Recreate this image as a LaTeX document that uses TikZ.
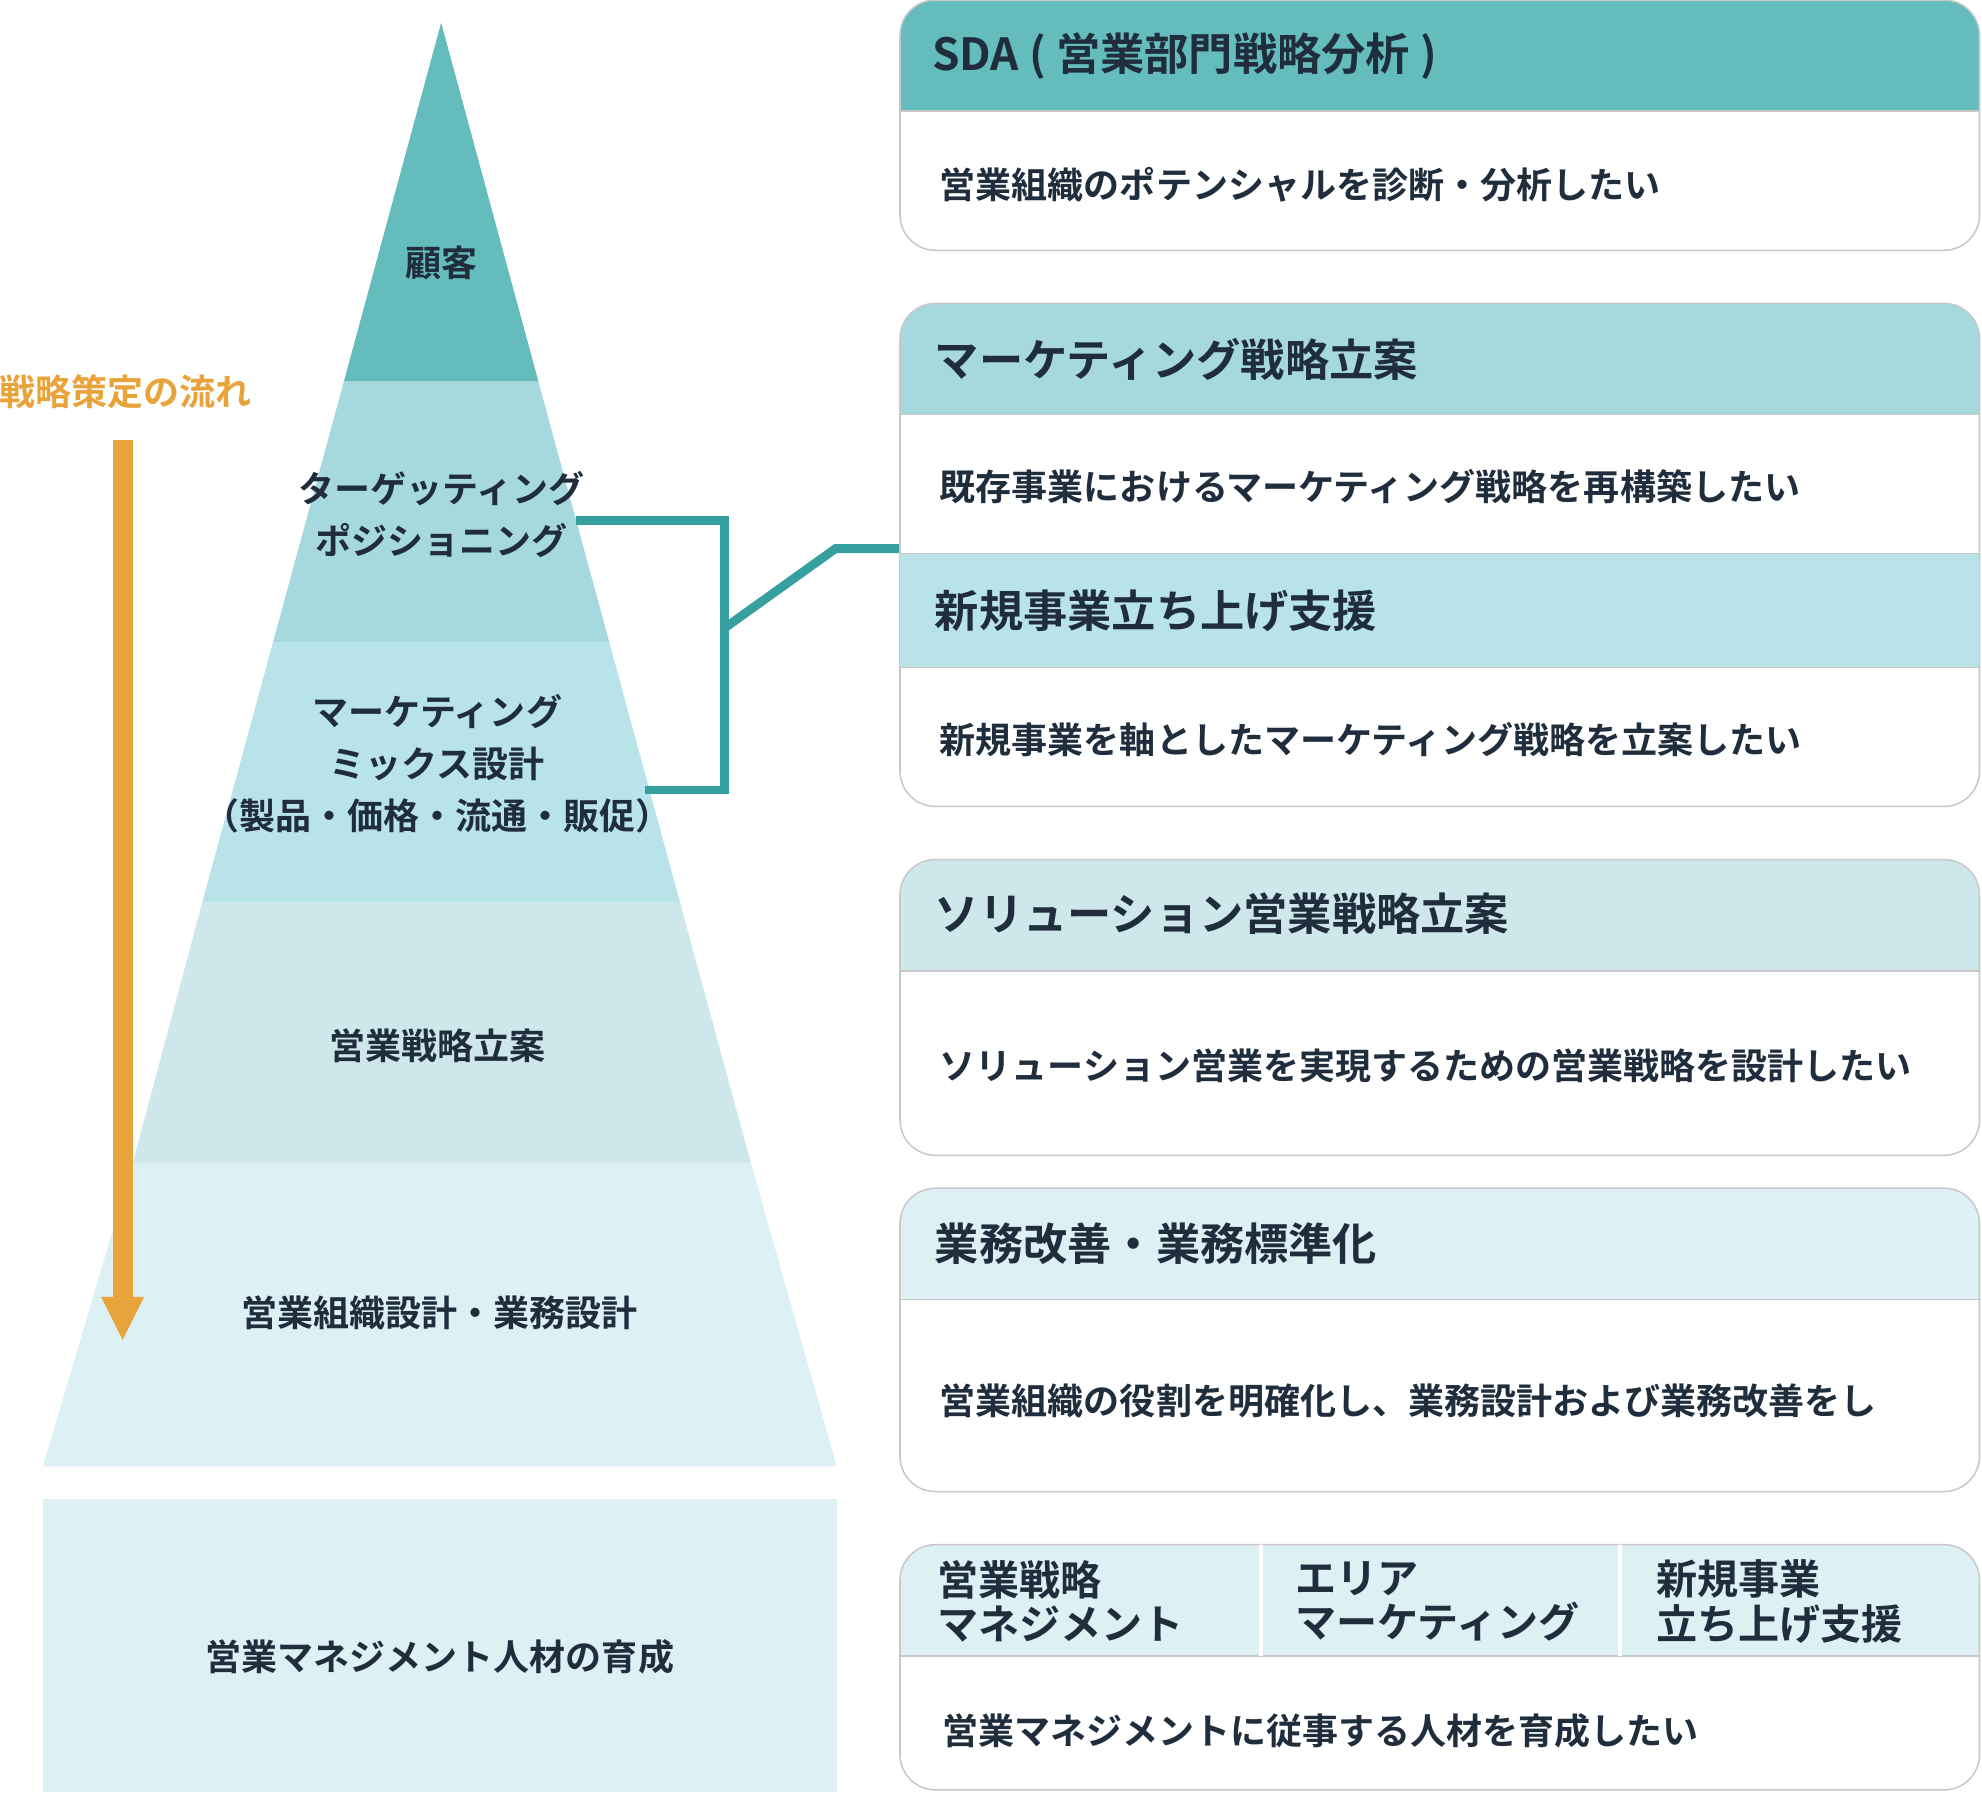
\documentclass[tikz,border=0pt]{standalone}
\usepackage{fontspec}
\setmainfont{Noto Sans CJK JP}[BoldFont={* Bold}]
\begin{document}
\begin{tikzpicture}[x=1pt,y=-1pt,
  txt/.style={font=\bfseries\fontsize{28.5}{41}\selectfont,text=dk,align=center},
  hd/.style={font=\bfseries\fontsize{35}{38}\selectfont,text=dk,anchor=west,align=left},
  bd/.style={font=\bfseries\fontsize{28.5}{32}\selectfont,text=dk,anchor=west},
  pan/.style={draw=bdr,line width=1.2pt,rounded corners=28pt},
  conn/.style={draw=tl,line width=7pt}]
\definecolor{dk}{HTML}{1F2D3D}
\definecolor{c1}{HTML}{64BCBD}
\definecolor{c2}{HTML}{A6D9DE}
\definecolor{c3}{HTML}{B8E3E9}
\definecolor{c4}{HTML}{CDE7EA}
\definecolor{c5}{HTML}{DDF0F4}
\definecolor{bdr}{HTML}{C8C8C8}
\definecolor{tl}{HTML}{36A0A0}
\definecolor{org}{HTML}{E8A43A}
\useasboundingbox (0,0) rectangle (1568,1420);
% pyramid
\fill[c1] (349,18) -- (426,302) -- (272,302) -- cycle;
\fill[c2] (272,302) -- (426,302) -- (482,508) -- (216,508) -- cycle;
\fill[c3] (216,508) -- (482,508) -- (538,714) -- (160,714) -- cycle;
\fill[c4] (160,714) -- (538,714) -- (594,920) -- (105,920) -- cycle;
\fill[c5] (105,920) -- (594,920) -- (662,1160) -- (34,1160) -- cycle;
\fill[c5] (34,1186) rectangle (662,1418);
\node[txt] (p1) at (349,208) {顧客};
\node[txt] (p2) at (349,407) {ターゲッティング\\ポジショニング};
\node[txt] (p3) at (346,604) {マーケティング\\ミックス設計\\（製品・価格・流通・販促）};
\node[txt] (p4) at (346,827) {営業戦略立案};
\node[txt] (p5) at (348,1039) {営業組織設計・業務設計};
\node[txt] (p6) at (348,1311) {営業マネジメント人材の育成};
% arrow
\node[font=\bfseries\fontsize{28.5}{32}\selectfont,text=org] (fl) at (99,310) {戦略策定の流れ};
\coordinate (a1) at (97,348); \coordinate (a2) at (97,1060);
\fill[org] (89,348) rectangle (105,1026);
\fill[org] (80,1026) -- (114,1026) -- (a2) -- cycle;
% connectors
\coordinate (k1) at (456,412); \coordinate (k2) at (573,412);
\coordinate (k3) at (573,625); \coordinate (k4) at (510,625);
\coordinate (k5) at (573,497); \coordinate (k6) at (661,434); \coordinate (k7) at (712,434);
\draw[conn] (k1) -- (k2) -- (k3) -- (k4);
\draw[conn,line join=miter] (k5) -- (k6) -- (k7);
% panels
\newcommand{\panelbox}[4]{% y1 y2 hdr-end color
  \fill[white,rounded corners=28pt] (712,#1) rectangle (1566,#2);
  \begin{scope}
  \clip[rounded corners=28pt] (712,#1) rectangle (1566,#2);
  \fill[#4] (712,#1) rectangle (1566,#3);
  \end{scope}
  \draw[pan] (712,#1) rectangle (1566,#2);
  \draw[bdr,line width=1.2pt] (712,#3) -- (1566,#3);}
\panelbox{0}{198}{88}{c1}
\node[hd] (h1) at (734,44) {SDA ( 営業部門戦略分析 )};
\node[bd] (b1) at (740,146) {営業組織のポテンシャルを診断・分析したい};
\panelbox{240}{638}{328}{c2}
\fill[c3] (712,438) rectangle (1566,528);
\draw[bdr,line width=1.2pt] (712,438) -- (1566,438) (712,528) -- (1566,528);
\node[hd] (h2) at (736,284) {マーケティング戦略立案};
\node[bd] (b2) at (740,385) {既存事業におけるマーケティング戦略を再構築したい};
\node[hd] (h3) at (736,483) {新規事業立ち上げ支援};
\node[bd] (b3) at (740,585) {新規事業を軸としたマーケティング戦略を立案したい};
\panelbox{680}{914}{768}{c4}
\node[hd] (h4) at (736,723) {ソリューション営業戦略立案};
\node[bd] (b4) at (740,843) {ソリューション営業を実現するための営業戦略を設計したい};
\panelbox{940}{1180}{1028}{c5}
\node[hd] (h5) at (736,984) {業務改善・業務標準化};
\node[bd] (b5) at (740,1108) {営業組織の役割を明確化し、業務設計および業務改善をし};
\panelbox{1222}{1416}{1310}{c5}
\fill[white] (996,1222) rectangle (999,1310) (1280,1222) rectangle (1283,1310);
\node[hd,font=\bfseries\fontsize{32.5}{35}\selectfont] (h6) at (738,1267) {営業戦略\\マネジメント};
\node[hd,font=\bfseries\fontsize{32.5}{35}\selectfont] (h7) at (1021,1267) {エリア\\マーケティング};
\node[hd,font=\bfseries\fontsize{32.5}{35}\selectfont] (h8) at (1307,1267) {新規事業\\立ち上げ支援};
\node[bd] (b6) at (742,1369) {営業マネジメントに従事する人材を育成したい};
\end{tikzpicture}
\end{document}
